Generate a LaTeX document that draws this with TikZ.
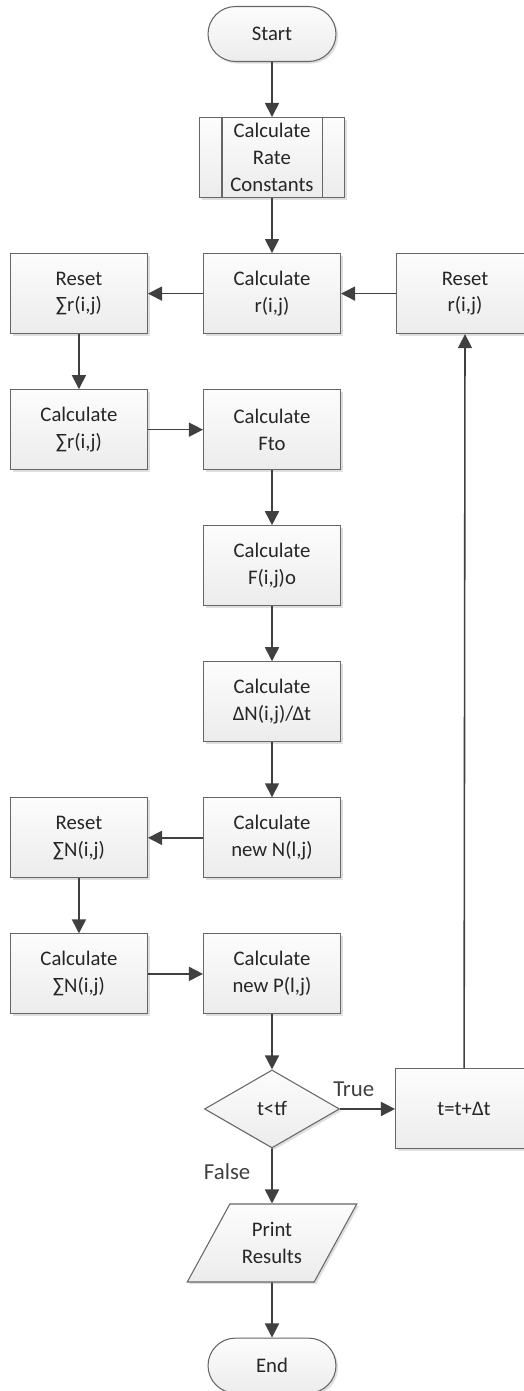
\documentclass[tikz,border=0pt]{standalone}
\usepackage{fontspec}
\setmainfont{Carlito}
\usetikzlibrary{arrows.meta, calc, positioning, shapes.geometric, shapes.misc, shadows}

\tikzset{
  base/.style={draw=black!60, line width=0.6pt, top color=gray!2, bottom color=gray!15,
    drop shadow={shadow xshift=1.2pt, shadow yshift=-1.2pt, opacity=0.25},
    align=center, text=black!85, font=\fontsize{11.8}{15.3}\selectfont, inner sep=2pt},
  box/.style={base, rectangle, minimum width=2.74cm, minimum height=1.6cm},
  term/.style={base, rounded rectangle, minimum width=2.7cm, minimum height=1.1cm},
  predef/.style={box, minimum width=2.9cm},
  decision/.style={base, diamond, minimum width=2.7cm, minimum height=1.56cm, inner sep=0pt},
  io/.style={base, trapezium, trapezium left angle=55, trapezium right angle=125,
    trapezium stretches=true, minimum width=3.4cm, minimum height=1.56cm},
  flow/.style={-{Triangle[length=8pt,width=8pt]}, draw=black!75, line width=0.9pt},
  lbl/.style={font=\fontsize{13}{15}\selectfont, text=black!75}
}

\begin{document}
\begin{tikzpicture}[node distance=1.1cm and 1.1cm]
 \clip (0,0) rectangle (10.48,-27.82);

 \node [term] (start) at (5.44,-0.68) {Start};
 \node [predef, below=of start] (rates) {Calculate\\Rate\\Constants};
 \node [box, below=of rates] (calcr) {Calculate\\r(i,j)};
 \node [box, left=of calcr] (resetsr) {Reset\\∑r(i,j)};
 \node [box, right=of calcr] (resetr) {Reset\\r(i,j)};
 \node [box, below=of calcr] (fto) {Calculate\\Fto};
 \node [box, left=of fto] (calcsr) {Calculate\\∑r(i,j)};
 \node [box, below=of fto] (fijo) {Calculate\\F(i,j)o};
 \node [box, below=of fijo] (dndt) {Calculate\\ΔN(i,j)/Δt};
 \node [box, below=of dndt] (newn) {Calculate\\new N(l,j)};
 \node [box, left=of newn] (resetsn) {Reset\\∑N(i,j)};
 \node [box, below=of newn] (newp) {Calculate\\new P(l,j)};
 \node [box, left=of newp] (calcsn) {Calculate\\∑N(i,j)};
 \node [decision, below=of newp] (test) {t<tf};
 \node [box, right=of test] (tinc) {t=t+Δt};
 \node [io, below=of test] (print) {Print\\Results};
 \node [term, below=of print] (end) {End};

 % side bars of the predefined process
 \draw [black!60, line width=0.6pt] ([xshift=0.46cm]rates.north west) -- ([xshift=0.46cm]rates.south west);
 \draw [black!60, line width=0.6pt] ([xshift=-0.46cm]rates.north east) -- ([xshift=-0.46cm]rates.south east);

 \draw [flow] (start) -- (rates);
 \draw [flow] (rates) -- (calcr);
 \draw [flow] (calcr) -- (resetsr);
 \draw [flow] (resetr) -- (calcr);
 \draw [flow] (resetsr) -- (calcsr);
 \draw [flow] (calcsr) -- (fto);
 \draw [flow] (fto) -- (fijo);
 \draw [flow] (fijo) -- (dndt);
 \draw [flow] (dndt) -- (newn);
 \draw [flow] (newn) -- (resetsn);
 \draw [flow] (resetsn) -- (calcsn);
 \draw [flow] (calcsn) -- (newp);
 \draw [flow] (newp) -- (test);
 \draw [flow] (test) -- node [lbl, pos=0.25, above=0.12cm] {True} (tinc);
 \draw [flow] (tinc) -- (resetr);
 \draw [flow] (test) -- node [lbl, pos=0.42, left=0.3cm] {False} (print);
 \draw [flow] (print) -- (end);
\end{tikzpicture}
\end{document}
